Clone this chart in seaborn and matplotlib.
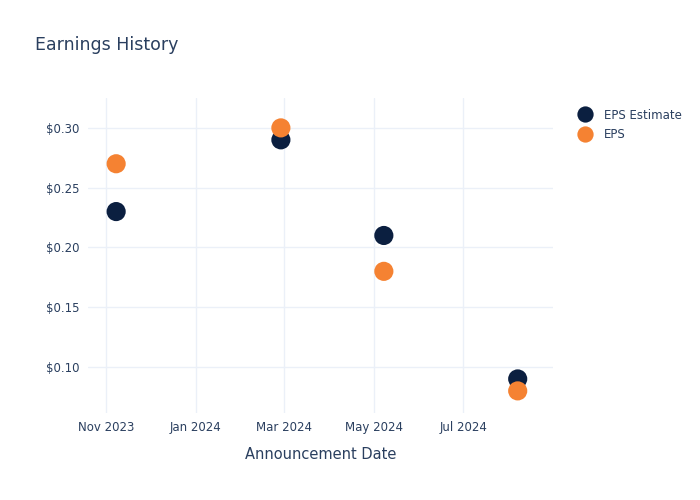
import pandas as pd
import matplotlib.pyplot as plt
import matplotlib.dates as mdates
import seaborn as sns

# Data
dates = ["2023-11-08", "2024-02-28", "2024-05-08", "2024-08-07"]
eps_estimate = [0.23, 0.29, 0.21, 0.09]
eps_actual = [0.27, 0.30, 0.18, 0.08]
series_names = ["EPS Estimate", "EPS"]
series_colors = ["#0b1f40", "#f58232"]

df = pd.DataFrame({
    "date": pd.to_datetime(dates * 2),
    "value": eps_estimate + eps_actual,
    "series": [series_names[0]] * len(dates) + [series_names[1]] * len(dates),
})

sns.set_theme(style="white")
plt.rcParams['font.family'] = ['DejaVu Sans']
text_color = "#2a3f5f"
grid_color = "#ebf0f8"

fig = plt.figure(figsize=(7, 5), dpi=100)
ax = fig.add_axes([0.126, 0.174, 0.664, 0.63])

sns.scatterplot(data=df, x="date", y="value", hue="series",
                palette=dict(zip(series_names, series_colors)),
                s=190, edgecolor="none", ax=ax, legend=True, zorder=3)

ax.set_xlim(pd.Timestamp("2023-10-20"), pd.Timestamp("2024-08-31"))
ax.set_ylim(0.0615, 0.325)
ax.xaxis.set_major_locator(mdates.MonthLocator(bymonth=[1, 3, 5, 7, 11]))
ax.xaxis.set_major_formatter(mdates.DateFormatter("%b %Y"))
ax.set_yticks([0.10, 0.15, 0.20, 0.25, 0.30])
ax.yaxis.set_major_formatter(plt.FuncFormatter(lambda v, p: f"${v:.2f}"))

ax.grid(True, color=grid_color, linewidth=1)
ax.set_axisbelow(True)
for s in ax.spines.values():
    s.set_visible(False)
ax.tick_params(axis="both", length=0, labelsize=8.5, colors=text_color, pad=6)

ax.set_xlabel("Announcement Date", fontsize=10.5, color=text_color, labelpad=9)
ax.set_ylabel("")

fig.text(0.05, 0.9, "Earnings History", fontsize=12.5, color=text_color)

leg = ax.legend(loc="upper left", bbox_to_anchor=(1.02, 1.0), frameon=False,
                fontsize=8.5, markerscale=0.85, handletextpad=0.6, labelspacing=0.55)
for t in leg.get_texts():
    t.set_color(text_color)

fig.savefig("out.png", dpi=100)
